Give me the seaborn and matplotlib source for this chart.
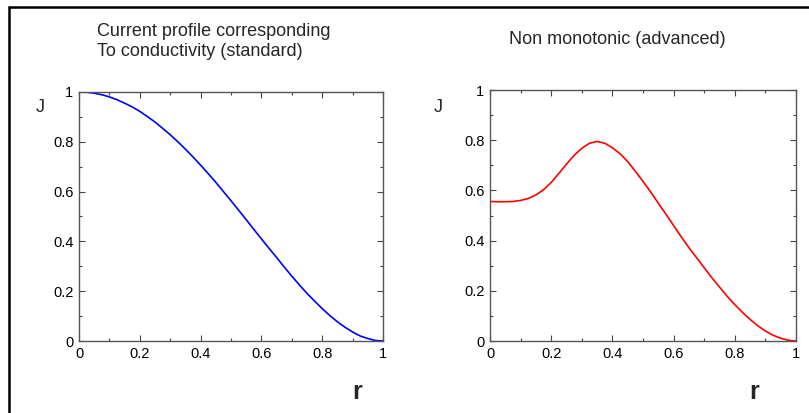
import numpy as np
import pandas as pd
import seaborn as sns
from matplotlib import pyplot as plt
from matplotlib.lines import Line2D
from matplotlib.ticker import MultipleLocator, FuncFormatter

# radius samples shared by both profiles
r = [0.000, 0.025, 0.050, 0.075, 0.100, 0.125, 0.150, 0.175, 0.200, 0.225,
     0.250, 0.275, 0.300, 0.325, 0.350, 0.375, 0.400, 0.425, 0.450, 0.475,
     0.500, 0.525, 0.550, 0.575, 0.600, 0.625, 0.650, 0.675, 0.700, 0.725,
     0.750, 0.775, 0.800, 0.825, 0.850, 0.875, 0.900, 0.925, 0.950, 0.975,
     1.000]

# standard profile
j_standard = [1.000, 0.999, 0.995, 0.989, 0.980, 0.969, 0.955, 0.940, 0.922, 0.901,
              0.879, 0.854, 0.828, 0.800, 0.770, 0.739, 0.706, 0.672, 0.637, 0.600,
              0.563, 0.525, 0.487, 0.448, 0.410, 0.372, 0.335, 0.297, 0.260, 0.225,
              0.191, 0.160, 0.130, 0.102, 0.077, 0.055, 0.036, 0.020, 0.010, 0.002,
              0.000]

# non monotonic profile
j_advanced = [0.556, 0.555, 0.555, 0.556, 0.560, 0.568, 0.582, 0.603, 0.632, 0.668,
              0.705, 0.740, 0.768, 0.788, 0.795, 0.788, 0.770, 0.746, 0.715, 0.676,
              0.636, 0.594, 0.549, 0.505, 0.460, 0.415, 0.372, 0.332, 0.292, 0.252,
              0.215, 0.178, 0.145, 0.114, 0.086, 0.061, 0.040, 0.023, 0.011, 0.003,
              0.000]

titles = ["Current profile corresponding\nTo conductivity (standard)",
          "Non monotonic (advanced)"]

df = pd.DataFrame({"r": r, "standard": j_standard, "advanced": j_advanced})

sns.set_style("ticks")
plt.rcParams["font.family"] = ["Liberation Sans", "DejaVu Sans"]

fig = plt.figure(figsize=(8.09, 4.13), dpi=100)
ax1 = fig.add_axes([0.0977, 0.1743, 0.3758, 0.6030])
ax2 = fig.add_axes([0.6057, 0.1743, 0.3782, 0.6077])

sns.lineplot(data=df, x="r", y="standard", ax=ax1, color="#0000ff", linewidth=1.2)
sns.lineplot(data=df, x="r", y="advanced", ax=ax2, color="#ff0000", linewidth=1.2)

fmt = FuncFormatter(lambda v, _: f"{v:g}")
for ax in (ax1, ax2):
    ax.set_xlim(0, 1)
    ax.set_ylim(0, 1)
    ax.set_xlabel("")
    ax.set_ylabel("")
    ax.xaxis.set_major_locator(MultipleLocator(0.2))
    ax.xaxis.set_minor_locator(MultipleLocator(0.1))
    ax.yaxis.set_major_locator(MultipleLocator(0.2))
    ax.yaxis.set_minor_locator(MultipleLocator(0.1))
    ax.xaxis.set_major_formatter(fmt)
    ax.yaxis.set_major_formatter(fmt)
    ax.tick_params(which="both", direction="in", top=True, right=True,
                   color="#444444", width=0.8, labelsize=10.5, labelcolor="black")
    ax.tick_params(which="major", length=4.5, pad=4)
    ax.tick_params(which="minor", length=2.5)
    for s in ax.spines.values():
        s.set_visible(True)
        s.set_color("#555555")
        s.set_linewidth(1.0)

# panel titles and axis letters
fig.text(97 / 809, 1 - 31 / 413, titles[0].split("\n")[0], fontsize=13, va="center", ha="left")
fig.text(97 / 809, 1 - 52 / 413, titles[0].split("\n")[1], fontsize=13, va="center", ha="left")
fig.text(617 / 809, 1 - 40 / 413, titles[1], fontsize=13, va="center", ha="center")
fig.text(40 / 809, 1 - 108 / 413, "J", fontsize=13, va="center", ha="center")
fig.text(438 / 809, 1 - 108 / 413, "J", fontsize=13, va="center", ha="center")
fig.text(357 / 809, 1 - 392 / 413, "r", fontsize=18, fontweight="bold", va="center", ha="center")
fig.text(754 / 809, 1 - 392 / 413, "r", fontsize=18, fontweight="bold", va="center", ha="center")

# outer frame (top and left edges only)
fig.add_artist(Line2D([9 / 809, 1.0], [1 - 7 / 413, 1 - 7 / 413], color="black", linewidth=1.8))
fig.add_artist(Line2D([9 / 809, 9 / 809], [0.0, 1 - 7 / 413], color="black", linewidth=1.8))

fig.savefig("out.png", dpi=100)
